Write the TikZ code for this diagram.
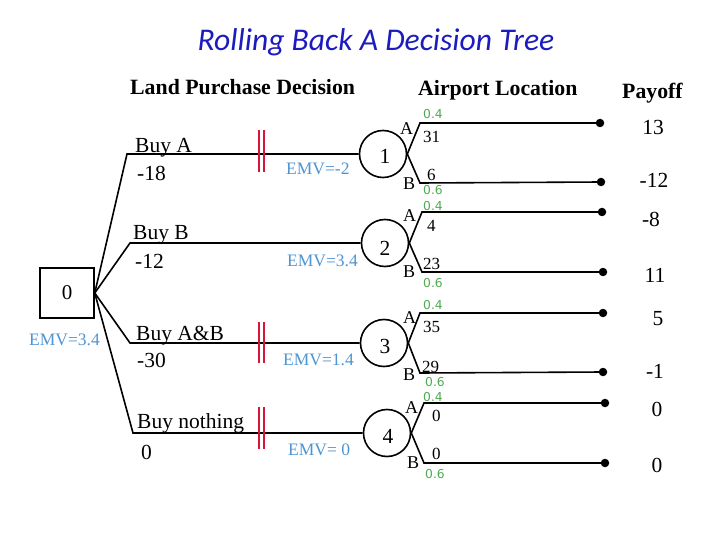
\documentclass[tikz,border=0pt]{standalone}
\usepackage{fontspec}
\setmainfont{Liberation Serif}
\newfontfamily\titlefont{Carlito}
\newfontfamily\probfont{DejaVu Sans}
\definecolor{titleblue}{RGB}{28,28,190}
\definecolor{emvblue}{RGB}{78,148,210}
\definecolor{probgreen}{RGB}{80,170,80}
\definecolor{barred}{RGB}{215,20,60}
\begin{document}
\begin{tikzpicture}[x=1pt,y=-1pt,
  txt/.style={inner sep=0pt, anchor=base west},
  lbl/.style={txt, font=\fontsize{21.5}{25}\selectfont},
  hdr/.style={txt, font=\fontsize{21.8}{25}\selectfont\bfseries},
  emv/.style={txt, font=\fontsize{17.5}{20}\selectfont, text=emvblue},
  prob/.style={txt, font=\probfont\fontsize{12.3}{14}\selectfont, text=probgreen},
  ab/.style={txt, font=\fontsize{18}{21}\selectfont},
  val/.style={txt, font=\fontsize{17}{20}\selectfont},
  pay/.style={inner sep=0pt, anchor=base, font=\fontsize{21.5}{24}\selectfont},
  chance/.style={circle, draw, line width=1.6pt, minimum size=47pt, inner sep=0pt},
  cnum/.style={inner sep=0pt, anchor=base, font=\fontsize{21.5}{24}\selectfont},
  decbox/.style={rectangle, draw, line width=1.5pt, minimum width=54pt, minimum height=50pt, inner sep=0pt, font=\fontsize{21}{24}\selectfont},
  enddot/.style={circle, fill, inner sep=0pt, minimum size=8.5pt},
  edge/.style={line width=1.6pt},
  redbar/.style={draw=barred, line width=2.3pt}
]
\useasboundingbox (0,0) rectangle (720,540);

% title
\node[inner sep=0pt, anchor=base, font=\titlefont\itshape\fontsize{31.6}{36}\selectfont, text=titleblue] (title) at (376,51) {Rolling Back A Decision Tree};

% headers
\node[hdr] (h1) at (130,95) {Land Purchase Decision};
\node[hdr] (h2) at (418,96) {Airport Location};
\node[hdr] (h3) at (622,99) {Payoff};

% decision node
\node[decbox] (box) at (67,293) {0};
\node[emv] (emv0) at (29,345) {EMV=3.4};

% knees
\coordinate (kA) at (127,154);
\coordinate (kB) at (130,243);
\coordinate (kAB) at (130,343);
\coordinate (kN) at (133,433);

% chance nodes
\node[chance] (c1) at (383,154) {};
\node[chance] (c2) at (385,243) {};
\node[chance] (c3) at (384,343) {};
\node[chance] (c4) at (387,433) {};
\node[cnum] (n1) at (385,164) {1};
\node[cnum] (n2) at (385,255) {2};
\node[cnum] (n3) at (385,353) {3};
\node[cnum] (n4) at (388,443) {4};

\draw[edge] (box.east) -- (kA) -- (c1.west);
\draw[edge] (box.east) -- (kB) -- (c2.west);
\draw[edge] (box.east) -- (kAB) -- (c3.west);
\draw[edge] (box.east) -- (kN) -- (c4.west);

% branch labels
\node[lbl] (tA) at (135,153) {Buy A};
\node[lbl] (vA) at (137,181) {-18};
\node[lbl] (tB) at (133,240) {Buy B};
\node[lbl] (vB) at (135,268) {-12};
\node[lbl] (tAB) at (136,340) {Buy A\&B};
\node[lbl] (vAB) at (137,367) {-30};
\node[lbl] (tN) at (137,428) {Buy nothing};
\node[lbl] (vN) at (141,459) {0};

% red bars
\draw[redbar] (259.3,130) -- (259.3,172);
\draw[redbar] (263.9,130) -- (263.9,172);
\draw[redbar] (259.3,322) -- (259.3,363);
\draw[redbar] (263.9,322) -- (263.9,363);
\draw[redbar] (259.3,407) -- (259.3,449);
\draw[redbar] (263.9,407) -- (263.9,449);

% EMV labels
\node[emv] (e1) at (286,175) {EMV=-2};
\node[emv] (e2) at (287,266) {EMV=3.4};
\node[emv] (e3) at (283,365) {EMV=1.4};
\node[emv] (e4) at (288,455) {EMV= 0};

% chance branches
\coordinate (c1a) at (420,123); \coordinate (c1b) at (420,183);
\coordinate (c2a) at (422,212); \coordinate (c2b) at (422,272);
\coordinate (c3a) at (420,313); \coordinate (c3b) at (420,373);
\coordinate (c4a) at (424,403); \coordinate (c4b) at (424,463);

\node[enddot] (d1a) at (600,123) {};
\node[enddot] (d1b) at (601,182) {};
\node[enddot] (d2a) at (602,212) {};
\node[enddot] (d2b) at (603,272) {};
\node[enddot] (d3a) at (603,313) {};
\node[enddot] (d3b) at (603,372) {};
\node[enddot] (d4a) at (605,403) {};
\node[enddot] (d4b) at (605,463) {};

\draw[edge] (c1.east) -- (c1a) -- (d1a.center);
\draw[edge] (c1.east) -- (c1b) -- (d1b.center);
\draw[edge] (c2.east) -- (c2a) -- (d2a.center);
\draw[edge] (c2.east) -- (c2b) -- (d2b.center);
\draw[edge] (c3.east) -- (c3a) -- (d3a.center);
\draw[edge] (c3.east) -- (c3b) -- (d3b.center);
\draw[edge] (c4.east) -- (c4a) -- (d4a.center);
\draw[edge] (c4.east) -- (c4b) -- (d4b.center);

% chance labels: circle 1
\node[prob] (p1a) at (423,119) {0.4};
\node[ab] (a1) at (400,135) {A};
\node[val] (v1a) at (423,143) {31};
\node[ab] (b1) at (403,190) {B};
\node[val] (v1b) at (427,181) {6};
\node[prob] (p1b) at (423,195) {0.6};
% circle 2
\node[prob] (p2a) at (423,211) {0.4};
\node[ab] (a2) at (403,222) {A};
\node[val] (v2a) at (427,231) {4};
\node[ab] (b2) at (403,277) {B};
\node[val] (v2b) at (423,269) {23};
\node[prob] (p2b) at (423,287) {0.6};
% circle 3
\node[prob] (p3a) at (423,309) {0.4};
\node[ab] (a3) at (403,323) {A};
\node[val] (v3a) at (423,332) {35};
\node[ab] (b3) at (403,380) {B};
\node[val] (v3b) at (422,372) {29};
\node[prob] (p3b) at (425,386) {0.6};
% circle 4
\node[prob] (p4a) at (423,401) {0.4};
\node[ab] (a4) at (405,413) {A};
\node[val] (v4a) at (432,421) {0};
\node[ab] (b4) at (407,468) {B};
\node[val] (v4b) at (432,459) {0};
\node[prob] (p4b) at (425,478) {0.6};

% payoffs
\node[pay] (y1) at (653,135) {13};
\node[pay] (y2) at (654,188) {-12};
\node[pay] (y3) at (651,226) {-8};
\node[pay] (y4) at (655,282) {11};
\node[pay] (y5) at (658,325) {5};
\node[pay] (y6) at (655,378) {-1};
\node[pay] (y7) at (657,416) {0};
\node[pay] (y8) at (657,472) {0};
\end{tikzpicture}
\end{document}
